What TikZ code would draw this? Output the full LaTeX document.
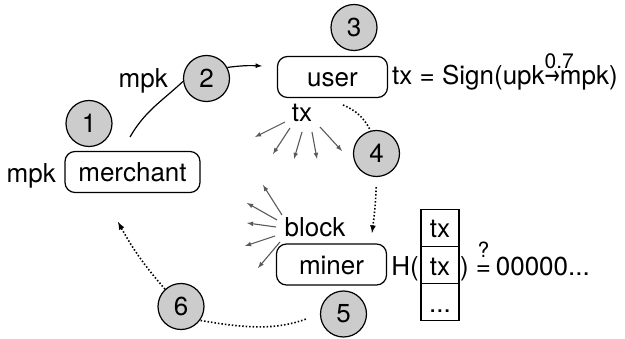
\documentclass[tikz,border=0pt]{standalone}
\usepackage{fontspec}
\setmainfont{TeX Gyre Heros}
\newfontfamily\arrowfont{DejaVu Sans}
\usepackage{graphicx}
\usetikzlibrary{calc}

\newcommand{\keyarrow}[1]{\rlap{\raisebox{16pt}{\fontsize{21}{21}\selectfont #1}}\scalebox{0.7}[1]{\arrowfont →}}
\newcommand{\testeq}{\makebox[15pt]{=}\llap{\makebox[15pt]{\raisebox{18pt}{\fontsize{21}{21}\selectfont ?}}}}

\begin{document}
\begin{tikzpicture}[x=1pt, y=1pt, font=\fontsize{26}{31}\selectfont,
    party/.style={draw, rounded corners=10pt, line width=1.2pt, minimum width=110pt, minimum height=41pt, inner sep=0pt, text height=20pt, text depth=0pt},
    stepnum/.style={draw, circle, fill=gray!40, line width=1.2pt, minimum size=46pt, inner sep=0pt},
    cell/.style={draw, line width=1.2pt, minimum width=38pt, minimum height=37pt, inner sep=0pt, text height=20pt, text depth=0pt},
    lbl/.style={inner sep=0pt},
    flow/.style={dash pattern=on 1.5pt off 2pt, line width=1.6pt},
    spread/.style={->, >=latex, black!65, line width=1.1pt}]
    \useasboundingbox (0,0) rectangle (625,338);

    \node[party, minimum width=135pt] (merchant) at (132.5,166) {merchant};
    \node[party] (user) at (332.5,261) {user};
    \node[party] (miner) at (331.5,73.5) {miner};

    \foreach \n/\x/\y in {1/89/214.5, 2/206.5/259.5, 3/354/310.5, 4/376.5/184.5, 5/343.5/24, 6/181/31.5}
        \node[stepnum] (s\n) at (\x,\y) {\n};

    \node[lbl, anchor=base east] (mpkm) at (56,155) {mpk};
    \node[lbl, anchor=base east] (mpka) at (168,250) {mpk};
    \node[lbl, anchor=base] (txu) at (302,216) {tx};
    \node[lbl, anchor=base] (block) at (315,101) {block};
    \node[lbl, anchor=base west] (sign) at (392,253) {tx = Sign(upk\keyarrow{0.7}mpk)};

    \node[cell] (tx1) at (440,110) {tx};
    \node[cell] (tx2) at (440,73) {tx};
    \node[cell] (tx3) at (440,36) {...};
    \node[lbl, anchor=base east] (hopen) at (419,63) {H(};
    \node[lbl, anchor=base west] (hclose) at (460,63) {)\hspace{7pt}\testeq\hspace{5pt}00000...};

    \coordinate (mout) at (130,201);
    \coordinate (uin) at (262,272);
    \coordinate (uout) at (343,233);
    \coordinate (mtip) at (372,105);
    \coordinate (ctip) at (118,116);

    \draw[line width=1.2pt] (mout) to[out=60, in=223] (s2.187);
    \draw[->, >=latex, line width=1.2pt] (s2.28) to[bend left=5] (uin);
    \draw[flow] (uout) to[bend left=20] (s4);
    \draw[flow, ->, >=latex, shorten <=10pt] (s4) to[bend left=3] (mtip);
    \draw[flow, shorten <=15pt] (s5.180) to[out=200, in=-10] (s6.-36);
    \draw[flow, ->, >=latex] (s6) to[bend left=6] (ctip);

    \foreach \a/\b/\c/\d in {-17/0/-30/-15, -12/-6/-17/-26, 0/-10/-8/-27, 10/-10/5/-27, 18/-5/22/-24}
        \draw[spread] ($(txu.base)+(\a,\b)$) -- ++(\c,\d);
    \foreach \a/\b/\c/\d in {-33/22/-19/30, -38/17/-30/17, -39/10/-29/4, -40/1/-30/-10, -35/-5/-22/-26}
        \draw[spread] ($(block.base)+(\a,\b)$) -- ++(\c,\d);
\end{tikzpicture}
\end{document}
